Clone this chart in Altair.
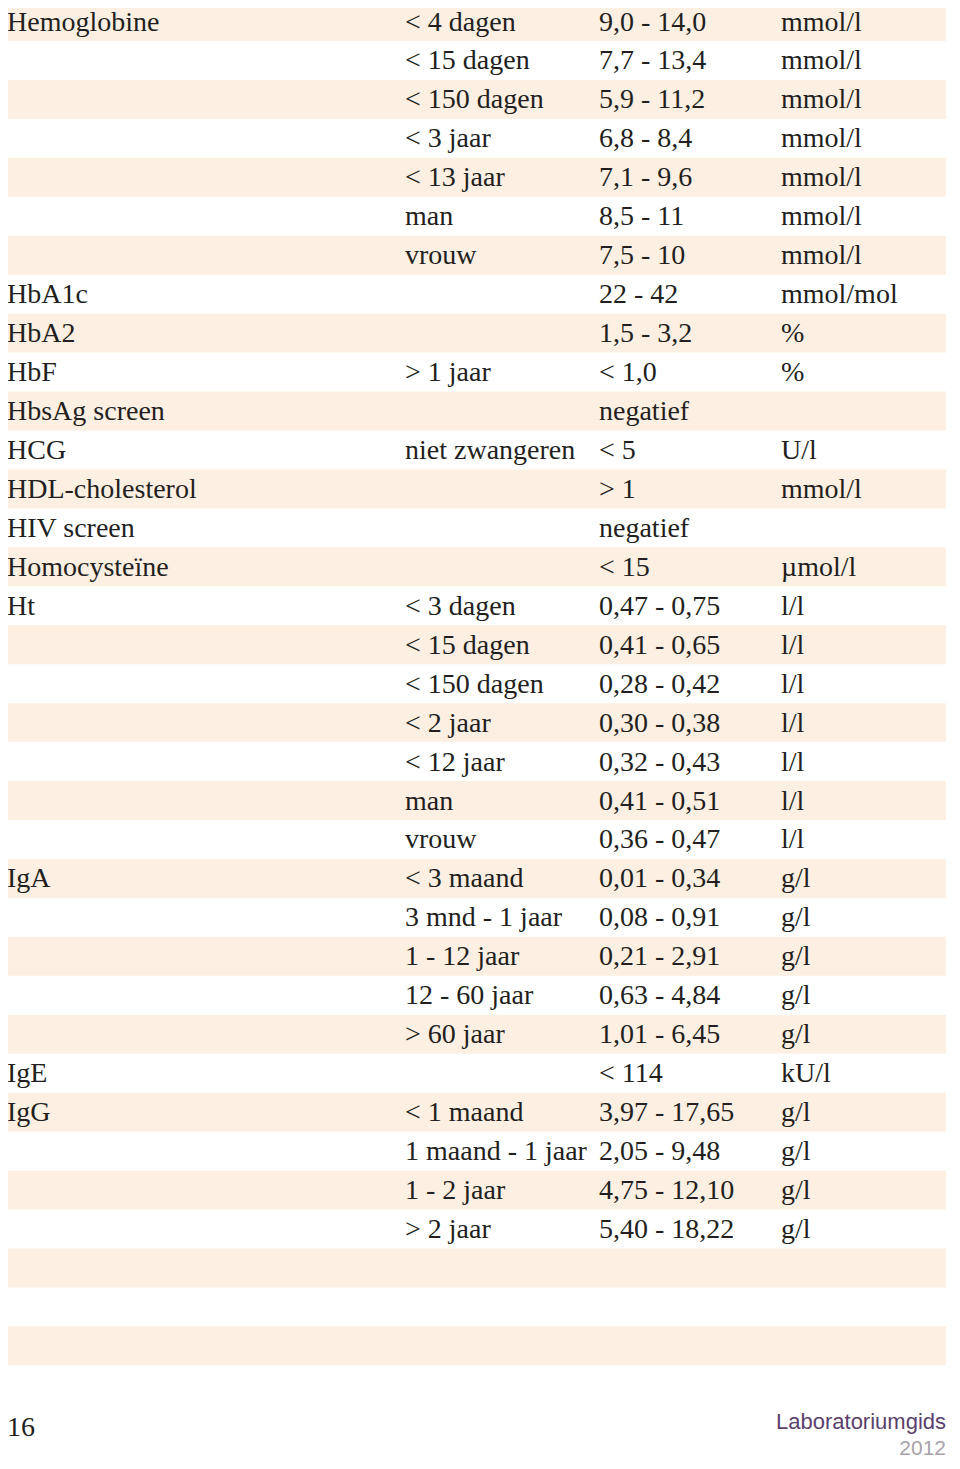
import altair as alt
import pandas as pd

tests = ["Hemoglobine", "", "", "", "", "", "", "HbA1c", "HbA2", "HbF", "HbsAg screen",
         "HCG", "HDL-cholesterol", "HIV screen", "Homocysteïne", "Ht", "", "", "", "", "",
         "", "IgA", "", "", "", "", "IgE", "IgG", "", "", "", "", "", ""]
conditions = ["< 4 dagen", "< 15 dagen", "< 150 dagen", "< 3 jaar", "< 13 jaar", "man", "vrouw",
              "", "", "> 1 jaar", "", "niet zwangeren", "", "", "", "< 3 dagen", "< 15 dagen",
              "< 150 dagen", "< 2 jaar", "< 12 jaar", "man", "vrouw", "< 3 maand",
              "3 mnd - 1 jaar", "1 - 12 jaar", "12 - 60 jaar", "> 60 jaar", "", "< 1 maand",
              "1 maand - 1 jaar", "1 - 2 jaar", "> 2 jaar", "", "", ""]
ranges = ["9,0 - 14,0", "7,7 - 13,4", "5,9 - 11,2", "6,8 - 8,4", "7,1 - 9,6", "8,5 - 11", "7,5 - 10",
          "22 - 42", "1,5 - 3,2", "< 1,0", "negatief", "< 5", "> 1", "negatief", "< 15",
          "0,47 - 0,75", "0,41 - 0,65", "0,28 - 0,42", "0,30 - 0,38", "0,32 - 0,43", "0,41 - 0,51",
          "0,36 - 0,47", "0,01 - 0,34", "0,08 - 0,91", "0,21 - 2,91", "0,63 - 4,84", "1,01 - 6,45",
          "< 114", "3,97 - 17,65", "2,05 - 9,48", "4,75 - 12,10", "5,40 - 18,22", "", "", ""]
units = ["mmol/l", "mmol/l", "mmol/l", "mmol/l", "mmol/l", "mmol/l", "mmol/l", "mmol/mol", "%", "%",
         "", "U/l", "mmol/l", "", "µmol/l", "l/l", "l/l", "l/l", "l/l", "l/l", "l/l", "l/l",
         "g/l", "g/l", "g/l", "g/l", "g/l", "kU/l", "g/l", "g/l", "g/l", "g/l", "", "", ""]

footer_page = ["16"]
footer_title = ["Laboratoriumgids"]
footer_year = ["2012"]

df = pd.DataFrame({
    "row": list(range(len(tests))),
    "test": tests,
    "cond": conditions,
    "range": ranges,
    "unit": units,
})

W, H = 944, 1453
STEP = 38.95
d0 = -13.5 / STEP
d1 = d0 + H / STEP
yscale = alt.Scale(domain=[d0, d1], reverse=True, zero=False, nice=False)

TEXT = "#231f20"
BAND = "#fdefe2"
FONT = "Liberation Serif"
FS = 28

base = alt.Chart(df)

bands = base.transform_filter("datum.row % 2 == 0").transform_calculate(
    y0="datum.row - 0.5", y1="datum.row + 0.5"
).mark_rect(color=BAND).encode(
    x=alt.value(-2), x2=alt.value(938),
    y=alt.Y("y0:Q", scale=yscale, axis=None),
    y2="y1:Q",
)

def col(field, xpos):
    return base.mark_text(
        align="left", baseline="alphabetic", dy=9, font=FONT, fontSize=FS, color=TEXT
    ).encode(
        x=alt.value(xpos),
        y=alt.Y("row:Q", scale=yscale, axis=None),
        text=f"{field}:N",
    )

c1 = col("test", -1)
c2 = col("cond", 397)
c3 = col("range", 591)
c4 = col("unit", 773)

f1 = alt.Chart(pd.DataFrame({"t": footer_page})).mark_text(
    align="left", baseline="alphabetic", font=FONT, fontSize=FS, color=TEXT
).encode(x=alt.value(-1), y=alt.value(1428), text="t:N")

f2 = alt.Chart(pd.DataFrame({"t": footer_title})).mark_text(
    align="right", baseline="alphabetic", font="Liberation Sans", fontSize=22, color="#5b3f6e"
).encode(x=alt.value(938), y=alt.value(1421), text="t:N")

f3 = alt.Chart(pd.DataFrame({"t": footer_year})).mark_text(
    align="right", baseline="alphabetic", font="Liberation Sans", fontSize=21, color="#a8a2ab"
).encode(x=alt.value(938), y=alt.value(1447), text="t:N")

chart = alt.layer(bands, c1, c2, c3, c4, f1, f2, f3).properties(
    width=W, height=H, padding=0, autosize=alt.AutoSizeParams(type="none")
).configure_view(stroke=None)

chart.save("out.html", embed_options={"renderer": "svg", "actions": False})
